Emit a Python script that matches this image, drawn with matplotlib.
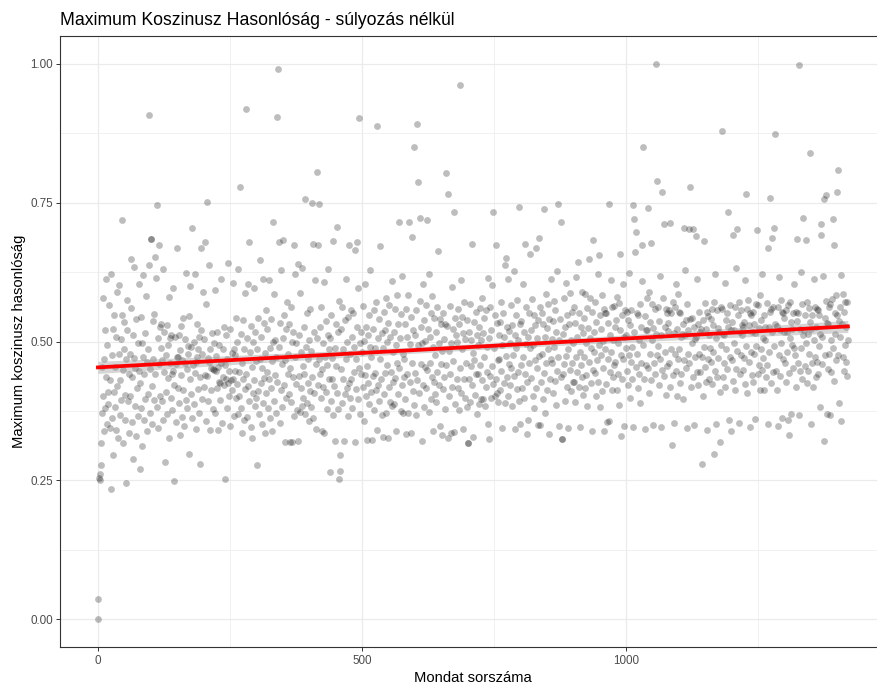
import matplotlib
matplotlib.use("Agg")
import matplotlib.pyplot as plt
import numpy as np

plt.rcParams["font.family"] = ["Liberation Sans", "DejaVu Sans"]

TITLE = "Maximum Koszinusz Hasonlóság - súlyozás nélkül"
X_LABEL = "Mondat sorszáma"
Y_LABEL = "Maximum koszinusz hasonlóság"
X_TICKS = [0, 500, 1000]
Y_TICKS = [0.00, 0.25, 0.50, 0.75, 1.00]

# max cosine similarity per sentence, in thousandths (sentence index = position)
max_cos_permille = [
    0, 37, 255, 250, 262, 278, 317, 455, 372, 578, 402, 468, 339, 520, 381, 436, 612, 351, 493, 410,
    388, 566, 345, 430, 621, 234, 362, 475, 522, 296, 410, 548, 382, 455, 341, 508, 589, 420, 327, 478,
    602, 368, 430, 505, 395, 718, 547, 449, 318, 487, 536, 403, 359, 245, 468, 520, 574, 393, 442, 336,
    478, 402, 561, 649, 355, 437, 512, 289, 470, 635, 384, 452, 330, 541, 416, 498, 366, 603, 447, 271,
    426, 545, 380, 498, 312, 472, 620, 358, 441, 516, 397, 582, 463, 338, 487, 405, 637, 908, 451, 372,
    685, 684, 420, 352, 537, 468, 395, 549, 441, 653, 615, 745, 382, 506, 345, 673, 459, 527, 401, 488,
    532, 392, 467, 631, 358, 445, 517, 283, 476, 409, 529, 370, 493, 434, 581, 326, 462, 507, 398, 511,
    441, 376, 596, 447, 422, 248, 508, 460, 355, 472, 668, 417, 473, 390, 512, 331, 485, 440, 528, 364,
    467, 412, 543, 348, 462, 505, 395, 624, 451, 380, 492, 478, 297, 546, 433, 600, 405, 490, 362, 705,
    458, 500, 387, 621, 444, 343, 463, 472, 532, 415, 486, 372, 508, 437, 280, 521, 669, 396, 477, 590,
    419, 505, 680, 439, 356, 567, 438, 751, 471, 392, 637, 463, 487, 341, 452, 412, 516, 451, 379, 498,
    449, 371, 593, 447, 474, 416, 518, 340, 454, 493, 428, 426, 395, 612, 461, 353, 436, 486, 421, 527,
    252, 458, 432, 511, 380, 469, 425, 641, 402, 447, 348, 522, 430, 479, 413, 605, 432, 366, 486, 447,
    475, 398, 542, 423, 499, 369, 630, 446, 401, 778, 514, 380, 461, 335, 538, 432, 487, 359, 587, 415,
    918, 442, 507, 364, 603, 420, 680, 393, 482, 346, 528, 454, 327, 499, 407, 596, 431, 383, 518, 465,
    398, 277, 486, 543, 411, 369, 647, 468, 425, 508, 352, 452, 612, 389, 533, 435, 335, 479, 407, 557,
    446, 522, 381, 611, 433, 488, 362, 541, 417, 465, 339, 716, 499, 392, 586, 440, 503, 371, 472, 905,
    428, 990, 680, 491, 354, 533, 412, 629, 459, 382, 683, 507, 421, 548, 319, 466, 523, 398, 571, 442,
    477, 406, 532, 319, 452, 563, 391, 499, 319, 436, 518, 674, 365, 472, 621, 423, 497, 377, 320, 640,
    438, 511, 373, 588, 417, 482, 384, 633, 456, 398, 527, 441, 369, 757, 491, 389, 552, 425, 468, 356,
    502, 411, 559, 382, 483, 437, 750, 362, 675, 517, 408, 611, 459, 343, 507, 806, 673, 422, 468, 747,
    442, 526, 398, 563, 451, 339, 497, 419, 607, 335, 473, 537, 410, 458, 378, 511, 630, 432, 487, 265,
    506, 392, 548, 433, 471, 367, 681, 420, 489, 321, 532, 456, 408, 707, 517, 378, 573, 253, 266, 295,
    451, 522, 389, 563, 432, 487, 321, 538, 405, 468, 612, 417, 499, 366, 544, 674, 425, 478, 399, 556,
    433, 508, 381, 552, 446, 491, 319, 664, 468, 415, 679, 526, 397, 596, 452, 902, 498, 370, 517, 441,
    482, 418, 564, 356, 501, 439, 603, 401, 527, 456, 322, 512, 425, 548, 387, 491, 628, 409, 472, 323,
    438, 523, 377, 556, 444, 489, 412, 572, 341, 888, 507, 421, 541, 393, 468, 672, 432, 515, 367, 328,
    489, 406, 554, 443, 521, 372, 578, 457, 499, 326, 533, 418, 566, 391, 508, 445, 609, 383, 482, 427,
    517, 388, 559, 435, 493, 338, 584, 462, 406, 531, 716, 452, 507, 375, 549, 422, 618, 371, 478, 436,
    468, 532, 397, 333, 559, 441, 508, 372, 583, 715, 427, 496, 335, 544, 462, 689, 411, 521, 386, 850,
    443, 512, 368, 557, 891, 431, 788, 494, 407, 573, 722, 459, 526, 321, 498, 422, 604, 382, 539, 455,
    501, 417, 566, 718, 448, 522, 373, 622, 462, 509, 396, 551, 436, 582, 339, 491, 428, 543, 405, 476,
    518, 391, 563, 446, 663, 422, 498, 348, 541, 459, 532, 331, 483, 414, 551, 437, 505, 379, 532, 804,
    457, 528, 326, 766, 483, 402, 564, 441, 498, 336, 599, 419, 523, 465, 734, 337, 542, 388, 511, 433,
    499, 416, 558, 377, 531, 962, 452, 611, 408, 487, 545, 343, 516, 433, 572, 398, 504, 461, 539, 382,
    317, 318, 518, 433, 567, 391, 502, 456, 676, 422, 479, 328, 536, 467, 403, 554, 441, 511, 369, 493,
    442, 526, 388, 561, 457, 502, 396, 578, 431, 515, 397, 543, 473, 384, 557, 419, 491, 446, 614, 351,
    324, 507, 438, 562, 399, 521, 456, 601, 734, 423, 489, 401, 548, 432, 674, 408, 533, 467, 391, 512,
    468, 535, 412, 571, 447, 493, 345, 552, 426, 508, 389, 638, 474, 650, 527, 437, 613, 402, 519, 459,
    497, 421, 566, 453, 384, 529, 476, 627, 438, 512, 342, 547, 489, 415, 574, 446, 503, 393, 743, 531,
    352, 458, 537, 416, 603, 473, 399, 518, 441, 676, 496, 563, 427, 333, 509, 358, 551, 462, 657, 488,
    521, 434, 577, 402, 493, 548, 381, 467, 529, 416, 668, 452, 506, 349, 538, 686, 474, 349, 562, 427,
    478, 552, 396, 531, 443, 738, 509, 372, 586, 461, 524, 413, 567, 487, 334, 541, 432, 612, 468, 505,
    462, 537, 408, 573, 491, 429, 556, 386, 518, 447, 627, 472, 748, 503, 347, 541, 436, 715, 324, 325,
    513, 441, 578, 459, 526, 392, 606, 474, 418, 547, 486, 345, 532, 449, 588, 411, 503, 462, 554, 427,
    497, 428, 562, 391, 534, 473, 616, 446, 508, 644, 419, 551, 482, 346, 527, 458, 589, 437, 516, 403,
    472, 543, 417, 586, 498, 439, 561, 384, 524, 463, 649, 507, 578, 426, 489, 339, 553, 448, 683, 481,
    518, 443, 571, 402, 536, 467, 622, 428, 494, 655, 382, 547, 476, 523, 411, 583, 452, 501, 339, 559,
    487, 552, 423, 551, 355, 468, 534, 357, 747, 512, 446, 611, 481, 413, 563, 502, 436, 564, 458, 527,
    463, 538, 412, 581, 497, 441, 569, 386, 657, 521, 475, 330, 547, 432, 603, 468, 509, 348, 556, 489,
    512, 447, 553, 421, 538, 476, 624, 398, 529, 463, 557, 432, 491, 745, 346, 720, 518, 662, 454, 697,
    478, 551, 416, 547, 503, 442, 568, 389, 527, 461, 609, 673, 851, 494, 433, 546, 342, 521, 458, 579,
    521, 740, 453, 589, 407, 536, 478, 677, 431, 502, 567, 349, 524, 462, 558, 441, 513, 1000, 789, 476,
    492, 563, 421, 537, 468, 618, 346, 512, 449, 769, 578, 711, 438, 527, 482, 559, 403, 551, 456, 519,
    534, 462, 557, 418, 713, 551, 487, 314, 572, 439, 516, 353, 563, 478, 603, 447, 522, 402, 586, 469,
    487, 553, 426, 552, 508, 441, 514, 397, 531, 466, 705, 512, 628, 453, 539, 344, 568, 478, 521, 703,
    462, 778, 541, 418, 543, 497, 437, 702, 526, 349, 504, 472, 690, 508, 446, 612, 421, 532, 478, 553,
    517, 446, 522, 473, 279, 538, 402, 681, 491, 455, 569, 427, 523, 341, 554, 468, 546, 432, 512, 488,
    541, 463, 558, 424, 529, 482, 297, 571, 447, 621, 506, 352, 557, 436, 524, 471, 518, 319, 409, 562,
    493, 558, 879, 437, 514, 512, 461, 606, 418, 539, 486, 552, 451, 527, 733, 358, 566, 472, 338, 521,
    467, 536, 692, 429, 521, 498, 412, 563, 451, 633, 702, 483, 547, 354, 572, 518, 442, 556, 476, 529,
    512, 448, 527, 471, 536, 423, 611, 766, 492, 558, 407, 574, 463, 529, 346, 552, 481, 547, 439, 518,
    553, 427, 531, 478, 516, 361, 568, 492, 701, 442, 566, 524, 457, 583, 413, 539, 486, 622, 448, 507,
    471, 548, 412, 526, 503, 437, 569, 458, 668, 351, 527, 482, 759, 553, 426, 558, 517, 686, 446, 562,
    704, 492, 873, 531, 447, 528, 413, 562, 347, 476, 617, 521, 438, 574, 497, 362, 553, 468, 552, 517,
    543, 462, 557, 428, 518, 481, 358, 566, 443, 331, 572, 507, 536, 369, 522, 493, 551, 452, 604, 489,
    476, 553, 418, 685, 537, 462, 551, 368, 998, 523, 447, 626, 489, 568, 432, 722, 512, 521, 456, 547,
    498, 683, 426, 572, 513, 447, 561, 478, 839, 536, 352, 523, 461, 548, 419, 612, 503, 472, 562, 437,
    527, 463, 558, 441, 556, 492, 548, 382, 513, 711, 691, 508, 459, 618, 756, 320, 542, 476, 573, 764,
    369, 534, 451, 532, 478, 563, 367, 568, 502, 446, 577, 720, 488, 674, 429, 552, 513, 466, 584, 770,
    548, 808, 476, 537, 389, 562, 508, 619, 357, 531, 472, 586, 447, 553, 494, 572, 463, 527, 438, 571, 502,
]

similarity = np.array(max_cos_permille, dtype=float) / 1000.0
sentence = np.arange(len(similarity))

# linear fit with 95% confidence band (like geom_smooth(method = "lm"))
n = len(sentence)
slope, intercept = np.polyfit(sentence, similarity, 1)
resid = similarity - (intercept + slope * sentence)
s_err = np.sqrt(np.sum(resid ** 2) / (n - 2))
x_fit = np.linspace(sentence.min(), sentence.max(), 200)
y_fit = intercept + slope * x_fit
sxx = np.sum((sentence - sentence.mean()) ** 2)
band = 1.9616 * s_err * np.sqrt(1 / n + (x_fit - sentence.mean()) ** 2 / sxx)

fig = plt.figure(figsize=(8.77, 6.87), dpi=100)
ax = fig.add_axes([0.0689, 0.0582, 0.9406, 0.8894])

ax.scatter(sentence, similarity, s=24, color="black", alpha=0.26, linewidths=0, zorder=2)
ax.fill_between(x_fit, y_fit - band, y_fit + band, color="#999999", alpha=0.4, linewidth=0, zorder=3)
ax.plot(x_fit, y_fit, color="#FF0000", lw=2.7, zorder=4)

span = sentence.max() - sentence.min()
ax.set_xlim(sentence.min() - 0.05 * span, sentence.max() + 0.05 * span)
ax.set_ylim(-0.05, 1.05)
ax.set_xticks(X_TICKS)
ax.set_xticks([250, 750, 1250], minor=True)
ax.set_yticks(Y_TICKS)
ax.set_yticklabels([f"{v:.2f}" for v in Y_TICKS])
ax.set_yticks([0.125, 0.375, 0.625, 0.875], minor=True)

ax.set_axisbelow(True)
ax.grid(which="major", color="#EBEBEB", lw=0.9)
ax.grid(which="minor", color="#EBEBEB", lw=0.5)
ax.tick_params(which="major", length=3, width=0.7, color="#333333",
               labelcolor="#4D4D4D", labelsize=8.4, pad=2.5)
ax.tick_params(which="minor", length=0)
for sp in ax.spines.values():
    sp.set_color("#333333")
    sp.set_linewidth(0.8)

ax.set_xlabel(X_LABEL, fontsize=10.6, labelpad=3)
ax.set_ylabel(Y_LABEL, fontsize=10.6, labelpad=3)
ax.set_title(TITLE, fontsize=12.7, loc="left", pad=8)

fig.savefig("out.png", dpi=100)
